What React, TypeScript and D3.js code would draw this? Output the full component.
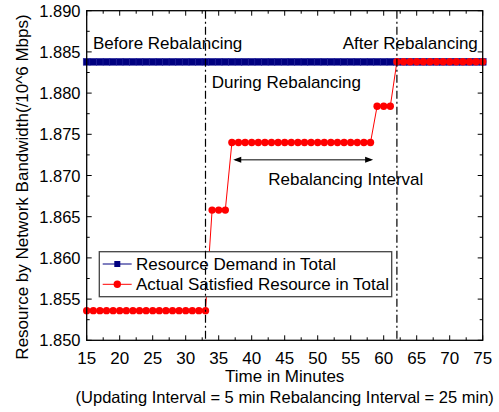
import React from "react";
import * as d3 from "d3";

// Time axis (minutes) and values (10^6 Mbps)
const demandMinutes = d3.range(15, 76, 1);
const demandValues = demandMinutes.map(() => 1.8838);

const satisfiedMinutes = [
  15, 16, 17, 18, 19, 20, 21, 22, 23, 24, 25, 26, 27, 28, 29, 30, 31, 32, 33,
  34, 35, 36,
  37, 38, 39, 40, 41, 42, 43, 44, 45, 46, 47, 48, 49, 50, 51, 52, 53, 54, 55, 56, 57, 58,
  59, 60, 61,
  62, 63, 64, 65, 66, 67, 68, 69, 70, 71, 72, 73, 74, 75,
];
const satisfiedValues = [
  1.8536, 1.8536, 1.8536, 1.8536, 1.8536, 1.8536, 1.8536, 1.8536, 1.8536, 1.8536,
  1.8536, 1.8536, 1.8536, 1.8536, 1.8536, 1.8536, 1.8536, 1.8536, 1.8536,
  1.8658, 1.8658, 1.8658,
  1.874, 1.874, 1.874, 1.874, 1.874, 1.874, 1.874, 1.874, 1.874, 1.874, 1.874,
  1.874, 1.874, 1.874, 1.874, 1.874, 1.874, 1.874, 1.874, 1.874, 1.874, 1.874,
  1.8784, 1.8784, 1.8784,
  1.8838, 1.8838, 1.8838, 1.8838, 1.8838, 1.8838, 1.8838, 1.8838, 1.8838, 1.8838,
  1.8838, 1.8838, 1.8838, 1.8838,
];

const xTicks = [15, 20, 25, 30, 35, 40, 45, 50, 55, 60, 65, 70, 75];
const yTicks = [1.85, 1.855, 1.86, 1.865, 1.87, 1.875, 1.88, 1.885, 1.89];

const phaseBoundaries = [33, 62];
const intervalArrow = { from: 37.2, to: 58.4, value: 1.8719 };

const seriesNames = ["Resource Demand in Total", "Actual Satisfied Resource in Total"];

const FONT = "'Liberation Sans', Arial, Helvetica, sans-serif";
const W = 499;
const H = 412;
const M = { left: 86.7, right: 482.7, top: 10.7, bottom: 340.3 };
const NAVY = "#000080";
const RED = "#ff0000";

export default function App() {
  const x = d3.scaleLinear().domain([15, 75]).range([M.left, M.right]);
  const y = d3.scaleLinear().domain([1.85, 1.89]).range([M.bottom, M.top]);

  const line = d3
    .line<[number, number]>()
    .x((d) => x(d[0]))
    .y((d) => y(d[1]));

  const demand: [number, number][] = demandMinutes.map((m, i) => [m, demandValues[i]]);
  const satisfied: [number, number][] = satisfiedMinutes.map((m, i) => [m, satisfiedValues[i]]);

  const xMinor = d3.range(17.5, 75, 5);
  const yMinor = d3.range(0, 8).map((i) => 1.8525 + i * 0.005);

  const major = 5;
  const minor = 3;
  const sq = 7;

  const ay = y(intervalArrow.value);
  const ax0 = x(intervalArrow.from);
  const ax1 = x(intervalArrow.to);

  const legend = { x: 99.3, y: 251.7, w: 292.4, h: 45 };

  return (
    <svg width={W} height={H} style={{ position: "absolute", left: 0, top: 0, background: "#fff" }}>
      <rect x={0} y={0} width={W} height={H} fill="#fff" />

      {/* demand series */}
      <path d={line(demand) ?? ""} fill="none" stroke={NAVY} strokeWidth={1} />
      {demand.map((d, i) => (
        <rect
          key={"s" + i}
          x={x(d[0]) - sq / 2}
          y={y(d[1]) - sq / 2}
          width={sq}
          height={sq}
          fill={NAVY}
          stroke="#2a2aa0"
          strokeWidth={0.5}
        />
      ))}

      {/* satisfied series */}
      <path d={line(satisfied) ?? ""} fill="none" stroke={RED} strokeWidth={1} />
      {satisfied.map((d, i) => (
        <circle key={"c" + i} cx={x(d[0])} cy={y(d[1])} r={3.7} fill={RED} />
      ))}

      {/* legend */}
      <rect
        x={legend.x}
        y={legend.y}
        width={legend.w}
        height={legend.h}
        fill="#fff"
        stroke="#444"
        strokeWidth={1.3}
      />
      <line x1={102.7} x2={131.7} y1={264} y2={264} stroke={NAVY} strokeWidth={1} />
      <rect x={117.3 - 3} y={264 - 3} width={6} height={6} fill={NAVY} />
      <text x={136} y={270} fontFamily={FONT} fontSize={17} fill="#000">
        {seriesNames[0]}
      </text>
      <line x1={102.7} x2={131.7} y1={284.3} y2={284.3} stroke={RED} strokeWidth={1} />
      <circle cx={117.3} cy={284.3} r={3.7} fill={RED} />
      <text x={136} y={290.3} fontFamily={FONT} fontSize={17} fill="#000">
        {seriesNames[1]}
      </text>

      {/* phase boundaries */}
      {phaseBoundaries.map((b) => (
        <line
          key={"b" + b}
          x1={x(b)}
          x2={x(b)}
          y1={M.top}
          y2={M.bottom}
          stroke="#000"
          strokeWidth={1.2}
          strokeDasharray="8,3,2,3"
        />
      ))}

      {/* rebalancing interval arrow */}
      <line x1={ax0 + 2} x2={ax1 - 2} y1={ay} y2={ay} stroke="#000" strokeWidth={1} />
      <path d={`M${ax0},${ay} l8,-3 l0,6 z`} fill="#000" />
      <path d={`M${ax1},${ay} l-8,-3 l0,6 z`} fill="#000" />

      {/* annotations */}
      <text x={93} y={49} fontFamily={FONT} fontSize={17} fill="#000">
        Before Rebalancing
      </text>
      <text x={342.7} y={49} fontFamily={FONT} fontSize={17} fill="#000">
        After Rebalancing
      </text>
      <text x={211.7} y={87.5} fontFamily={FONT} fontSize={17} fill="#000">
        During Rebalancing
      </text>
      <text x={268.3} y={184.5} fontFamily={FONT} fontSize={17} fill="#000">
        Rebalancing Interval
      </text>

      {/* frame */}
      <rect
        x={M.left}
        y={M.top}
        width={M.right - M.left}
        height={M.bottom - M.top}
        fill="none"
        stroke="#000"
        strokeWidth={1.3}
      />

      {/* x ticks (inward, all four sides) */}
      {xTicks.map((t) => (
        <g key={"xt" + t}>
          <line x1={x(t)} x2={x(t)} y1={M.bottom} y2={M.bottom - major} stroke="#000" />
          <line x1={x(t)} x2={x(t)} y1={M.top} y2={M.top + major} stroke="#000" />
          <text
            x={x(t)}
            y={364}
            textAnchor="middle"
            fontFamily={FONT}
            fontSize={17}
            fill="#000"
          >
            {t}
          </text>
        </g>
      ))}
      {xMinor.map((t) => (
        <g key={"xm" + t}>
          <line x1={x(t)} x2={x(t)} y1={M.bottom} y2={M.bottom - minor} stroke="#000" />
          <line x1={x(t)} x2={x(t)} y1={M.top} y2={M.top + minor} stroke="#000" />
        </g>
      ))}

      {/* y ticks */}
      {yTicks.map((t) => (
        <g key={"yt" + t}>
          <line x1={M.left} x2={M.left + major} y1={y(t)} y2={y(t)} stroke="#000" />
          <line x1={M.right} x2={M.right - major} y1={y(t)} y2={y(t)} stroke="#000" />
          <text
            x={80.5}
            y={y(t) + 6}
            textAnchor="end"
            fontFamily={FONT}
            fontSize={16.5}
            fill="#000"
          >
            {d3.format(".3f")(t)}
          </text>
        </g>
      ))}
      {yMinor.map((t) => (
        <g key={"ym" + t}>
          <line x1={M.left} x2={M.left + minor} y1={y(t)} y2={y(t)} stroke="#000" />
          <line x1={M.right} x2={M.right - minor} y1={y(t)} y2={y(t)} stroke="#000" />
        </g>
      ))}

      {/* axis titles */}
      <text x={284.7} y={382} textAnchor="middle" fontFamily={FONT} fontSize={17} fill="#000">
        Time in Minutes
      </text>
      <text x={284.7} y={403} textAnchor="middle" fontFamily={FONT} fontSize={16.5} fill="#000">
        (Updating Interval = 5 min Rebalancing Interval = 25 min)
      </text>
      <text
        transform="translate(28,187) rotate(-90)"
        textAnchor="middle"
        fontFamily={FONT}
        fontSize={17}
        fill="#000"
      >
        Resource by Network Bandwidth(/10^6 Mbps)
      </text>
    </svg>
  );
}
